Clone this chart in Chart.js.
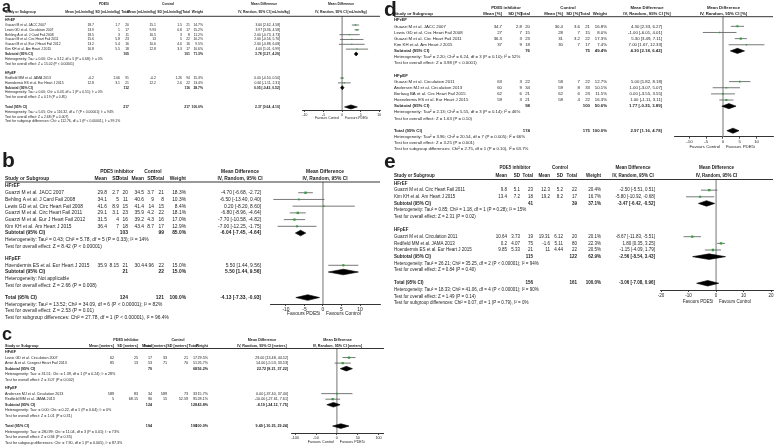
<!DOCTYPE html>
<html>
<head>
<meta charset="utf-8">
<script src="https://cdn.jsdelivr.net/npm/chart.js@4.4.0/dist/chart.umd.min.js"></script>
<style>
html, body { margin: 0; padding: 0; background: #fff; }
#wrap { position: relative; width: 778px; height: 447px; overflow: hidden; }
canvas { position: absolute; }
</style>
</head>
<body>
<div id="wrap"></div>
<script>
// ---- a: peak VO2 ----
const aStudy = ['Guazzi M et al. JACC 2007', 'Lewis GD et al. Circulation 2007', 'Behling A et al. J Card Fail 2008',
  'Guazzi M et al. Circ Heart Fail 2011', 'Guazzi M et al. Eur J Heart Fail 2012', 'Kim KH et al. Am Heart J 2015',
  'Redfield MM et al. JAMA 2013', 'Hoendermis ES et al. Eur Heart J 2015'];
const aGroup = [0, 0, 0, 0, 0, 0, 1, 1];
const aPde = [[18.7, 1.7, 20], [13.9, 1, 17], [18.5, 3, 11], [15.6, 5.8, 23], [13.2, 5.4, 16], [16.8, 5.5, 18], [-0.2, 2.06, 91], [12.8, 3.1, 21]];
const aCtl = [[15.1, 1.5, 21], [9.93, 0.8, 17], [16.5, 3, 8], [13, 5, 22], [10.6, 4.6, 16], [12.8, 3.3, 17], [-0.2, 1.26, 94], [12.2, 2.6, 22]];
const aWeight = [14.7, 15.2, 11.2, 10.2, 9.5, 10.6, 15.3, 13.4];
const aMd = [3.60, 3.97, 2.00, 2.60, 2.60, 4.00, 0.00, 0.60];
const aLo = [2.62, 3.36, -0.73, -0.56, -0.88, 1.01, -0.50, -1.11];
const aHi = [4.58, 4.58, 4.73, 5.76, 6.08, 6.99, 0.50, 2.31];
const aSub = [[105, 101, 71.3, 3.78, 3.27, 4.29], [112, 116, 28.7, 0.05, -0.43, 0.52]];
const aTotal = [217, 217, 100.0, 2.37, 0.64, 4.10];
const aHet = ['Heterogeneity: Tau² = 0.00; Chi² = 3.12, df = 5 (P = 0.68); I² = 0%', 'Heterogeneity: Tau² = 0.00; Chi² = 0.43, df = 1 (P = 0.51); I² = 0%'];
const aZ = ['Test for overall effect: Z = 15.02 (P < 0.00001)', 'Test for overall effect: Z = 0.19 (P = 0.85)'];
const aNotes = ['Heterogeneity: Tau² = 5.05; Chi² = 116.32, df = 7 (P < 0.00001); I² = 94%', 'Test for overall effect: Z = 2.68 (P = 0.007)',
  'Test for subgroup differences: Chi² = 112.76, df = 1 (P < 0.00001), I² = 99.1%'];
const aTicks = [-10, -5, 0, 5, 10];

// ---- b: VE/VCO2 slope ----
const bStudy = ['Guazzi M et al. JACC 2007', 'Behling A et al. J Card Fail 2008', 'Lewis GD et al. Circ Heart Fail 2008',
  'Guazzi M et al. Circ Heart Fail 2011', 'Guazzi M et al. Eur J Heart Fail 2012', 'Kim KH et al. Am Heart J 2015',
  'Hoendermis ES et al. Eur Heart J 2015'];
const bGroup = [0, 0, 0, 0, 0, 0, 1];
const bPde = [[29.8, 2.7, 20], [34.1, 5, 11], [41.6, 8.9, 15], [29.1, 3.1, 23], [31.5, 4, 16], [36.4, 7, 18], [35.9, 8.15, 21]];
const bCtl = [[34.5, 3.7, 21], [40.6, 9, 8], [41.4, 14, 15], [35.9, 4.2, 22], [39.2, 4.3, 16], [43.4, 8.7, 17], [30.4, 4.96, 22]];
const bWeight = [18.3, 10.3, 8.4, 18.1, 17.0, 12.9, 15.0];
const bMd = [-4.70, -6.50, 0.20, -6.80, -7.70, -7.00, 5.50];
const bLo = [-6.68, -13.40, -8.20, -8.96, -10.58, -12.25, 1.44];
const bHi = [-2.72, 0.40, 8.60, -4.64, -4.82, -1.75, 9.56];
const bSub = [[103, 99, 85.0, -6.04, -7.45, -4.64], [21, 22, 15.0, 5.50, 1.44, 9.56]];
const bTotal = [124, 121, 100.0, -4.13, -7.33, -0.93];
const bHet = ['Heterogeneity: Tau² = 0.43; Chi² = 5.78, df = 5 (P = 0.33); I² = 14%', 'Heterogeneity: Not applicable'];
const bZ = ['Test for overall effect: Z = 8.42 (P < 0.00001)', 'Test for overall effect: Z = 2.66 (P = 0.008)'];
const bNotes = ['Heterogeneity: Tau² = 13.52; Chi² = 34.09, df = 6 (P < 0.00001); I² = 82%', 'Test for overall effect: Z = 2.53 (P = 0.01)',
  'Test for subgroup differences: Chi² = 27.78, df = 1 (P < 0.00001), I² = 96.4%'];
const bTicks = [-10, -5, 0, 5, 10];

// ---- c: 6-minute walk distance ----
const cStudy = ['Lewis GD et al. Circulation 2007', 'Amin A et al. Congest Heart Fail 2013', 'Andersen MJ et al. Circulation 2013', 'Redfield MM et al. JAMA 2013'];
const cGroup = [0, 0, 1, 1];
const cPde = [[62, 25, 17], [85, 13, 53], [589, 83, 34], [5, 68.15, 90]];
const cCtl = [[33, 21, 17], [71, 70, 51], [589, 73, 33], [15, 52.59, 95]];
const cWeight = [29.5, 26.7, 15.7, 28.1];
const cMd = [29.00, 14.00, 0.00, -10.00];
const cLo = [13.48, -5.53, -37.40, -27.61];
const cHi = [44.52, 33.53, 37.40, 7.61];
const cSub = [[70, 68, 56.2, 22.72, 8.21, 37.22], [124, 128, 43.8, -8.19, -24.12, 7.75]];
const cTotal = [194, 196, 100.0, 9.49, -10.25, 29.24];
const cHet = ['Heterogeneity: Tau² = 31.51; Chi² = 1.39, df = 1 (P = 0.24); I² = 28%', 'Heterogeneity: Tau² = 0.00; Chi² = 0.22, df = 1 (P = 0.64); I² = 0%'];
const cZ = ['Test for overall effect: Z = 3.07 (P = 0.002)', 'Test for overall effect: Z = 1.01 (P = 0.31)'];
const cNotes = ['Heterogeneity: Tau² = 280.99; Chi² = 11.04, df = 3 (P = 0.01); I² = 73%', 'Test for overall effect: Z = 0.94 (P = 0.35)',
  'Test for subgroup differences: Chi² = 7.90, df = 1 (P = 0.005), I² = 87.3%'];
const cTicks = [-100, -50, 0, 50, 100];

// ---- d: LVEF ----
const dStudy = ['Guazzi M et al. JACC 2007', 'Lewis GD et al. Circ Heart Fail 2008', 'Guazzi M et al. Circ Heart Fail 2011', 'Kim KH et al. Am Heart J 2015',
  'Guazzi M et al. Circulation 2011', 'Andersen MJ et al. Circulation 2013', 'Borlaug BA et al. Circ Heart Fail 2015', 'Hoendermis ES et al. Eur Heart J 2015'];
const dGroup = [0, 0, 0, 0, 1, 1, 1, 1];
const dPde = [[34.7, 2.8, 20], [27, 7, 15], [36.3, 3, 23], [37, 9, 18], [63, 3, 22], [60, 9, 34], [62, 6, 21], [59, 3, 21]];
const dCtl = [[30.4, 3.6, 21], [28, 7, 15], [31, 3.2, 22], [30, 7, 17], [58, 7, 22], [59, 8, 33], [62, 6, 23], [58, 4, 22]];
const dWeight = [16.8, 8.0, 17.3, 7.4, 12.7, 10.1, 11.5, 16.3];
const dMd = [4.30, -1.00, 5.30, 7.00, 5.00, 1.00, 0.00, 1.00];
const dLo = [2.33, -6.01, 3.49, 1.67, 1.82, -3.07, -3.55, -1.11];
const dHi = [6.27, 4.01, 7.11, 12.33, 8.18, 5.07, 3.55, 3.11];
const dSub = [[76, 75, 49.4, 4.30, 2.18, 6.42], [98, 100, 50.6, 1.77, -0.35, 3.89]];
const dTotal = [174, 175, 100.0, 2.97, 1.16, 4.78];
const dHet = ['Heterogeneity: Tau² = 2.20; Chi² = 6.24, df = 3 (P = 0.10); I² = 52%', 'Heterogeneity: Tau² = 2.13; Chi² = 5.55, df = 3 (P = 0.14); I² = 46%'];
const dZ = ['Test for overall effect: Z = 3.98 (P < 0.0001)', 'Test for overall effect: Z = 1.63 (P = 0.10)'];
const dNotes = ['Heterogeneity: Tau² = 3.96; Chi² = 20.54, df = 7 (P = 0.005); I² = 66%', 'Test for overall effect: Z = 3.25 (P = 0.001)',
  'Test for subgroup differences: Chi² = 2.75, df = 1 (P = 0.10), I² = 63.7%'];
const dTicks = [-10, -5, 0, 5, 10];

// ---- e: E/e' ----
const eStudy = ['Guazzi M et al. Circ Heart Fail 2011', 'Kim KH et al. Am Heart J 2015', 'Guazzi M et al. Circulation 2011',
  'Redfield MM et al. JAMA 2013', 'Hoendermis ES et al. Eur Heart J 2015'];
const eGroup = [0, 0, 1, 1, 1];
const ePde = [[9.8, 5.1, 23], [13.4, 7.2, 18], [10.64, 3.73, 19], [0.2, 4.07, 75], [9.85, 5.33, 21]];
const eCtl = [[12.3, 5.2, 22], [19.2, 8.2, 17], [19.31, 6.12, 20], [-1.6, 5.11, 80], [11, 4.44, 22]];
const eWeight = [20.4, 16.7, 20.1, 22.3, 20.5];
const eMd = [-2.50, -5.80, -8.67, 1.80, -1.15];
const eLo = [-5.51, -10.92, -11.83, 0.35, -4.09];
const eHi = [0.51, -0.68, -5.51, 3.25, 1.79];
const eSub = [[41, 39, 37.1, -3.47, -6.42, -0.52], [115, 122, 62.9, -2.56, -8.54, 3.43]];
const eTotal = [156, 161, 100.0, -3.06, -7.08, 0.96];
const eHet = ['Heterogeneity: Tau² = 0.85; Chi² = 1.18, df = 1 (P = 0.28); I² = 15%', 'Heterogeneity: Tau² = 26.21; Chi² = 35.25, df = 2 (P < 0.00001); I² = 94%'];
const eZ = ['Test for overall effect: Z = 2.31 (P = 0.02)', 'Test for overall effect: Z = 0.84 (P = 0.40)'];
const eNotes = ['Heterogeneity: Tau² = 18.33; Chi² = 41.06, df = 4 (P < 0.00001); I² = 90%', 'Test for overall effect: Z = 1.49 (P = 0.14)',
  'Test for subgroup differences: Chi² = 0.07, df = 1 (P = 0.79), I² = 0%'];
const eTicks = [-20, -10, 0, 10, 20];

const GROUPS = ['HFrEF', 'HFpEF'];
const FONT = "'Liberation Sans', Arial, sans-serif";
Chart.defaults.font.family = FONT;

const panels = [
  { letter: 'a', box: [0, 0, 384, 126], fs: 3.4, lsize: 16, lx: 2, ly: 12,
    d: { study: aStudy, group: aGroup, pde: aPde, ctl: aCtl, weight: aWeight, md: aMd, lo: aLo, hi: aHi, sub: aSub, total: aTotal, het: aHet, z: aZ, notes: aNotes, ticks: aTicks },
    head: 'PDE5i', cols: ['Mean [mL/min/kg]', 'SD [mL/min/kg]', 'Total', 'Mean [mL/min/kg]', 'SD [mL/min/kg]', 'Total', 'Weight'],
    mdHead: 'IV, Random, 95% CI [mL/min/kg]', fav: ['Favours Control', 'Favours PDE5i'],
    y: { grp: 4, col: 12, line: 16.3, row0: 20.2, step: 4.82, axis: 110, fav: 118.5 }, gaps: [2, 2],
    x: { name: 5, cols: [94, 120, 129, 156, 182, 190, 203], md: 280, grpC: [104, 168], mdC: 264 },
    plot: { left: 302, right: 380, min: -10.8, max: 10.2 } },
  { letter: 'b', box: [0, 148, 384, 177], fs: 4.9, lsize: 21, lx: 2, ly: 167,
    d: { study: bStudy, group: bGroup, pde: bPde, ctl: bCtl, weight: bWeight, md: bMd, lo: bLo, hi: bHi, sub: bSub, total: bTotal, het: bHet, z: bZ, notes: bNotes, ticks: bTicks },
    head: 'PDE5 inhibitor', cols: ['Mean', 'SD', 'Total', 'Mean', 'SD', 'Total', 'Weight'],
    mdHead: 'IV, Random, 95% CI', fav: ['Favours PDE5i', 'Favours Control'],
    y: { grp: 171.5, col: 178.5, line: 182, row0: 186, step: 6.72, axis: 304, fav: 314 }, gaps: [1.8, 1.8],
    x: { name: 5, cols: [107, 119, 128, 144, 154, 164, 186], md: 261, grpC: [117, 153], mdC: 240 },
    plot: { left: 270, right: 380, min: -14.3, max: 15.4 } },
  { letter: 'c', box: [0, 322, 384, 125], fs: 3.7, lsize: 18, lx: 2, ly: 340,
    d: { study: cStudy, group: cGroup, pde: cPde, ctl: cCtl, weight: cWeight, md: cMd, lo: cLo, hi: cHi, sub: cSub, total: cTotal, het: cHet, z: cZ, notes: cNotes, ticks: cTicks },
    head: 'PDE5 inhibitor', cols: ['Mean [meters]', 'SD [meters]', 'Total', 'Mean [meters]', 'SD [meters]', 'Total', 'Weight'],
    mdHead: 'IV, Random, 95% CI [meters]', fav: ['Favours Control', 'Favours PDE5i'],
    y: { grp: 340, col: 345.5, line: 348.5, row0: 352, step: 5.55, axis: 433, fav: 442 }, gaps: [1.5, 1.85],
    x: { name: 5, cols: [114, 138, 152, 167, 188, 197, 208], md: 288, grpC: [126, 178], mdC: 262 },
    plot: { left: 291, right: 384, min: -110, max: 113 } },
  { letter: 'd', box: [382, 0, 396, 155], fs: 4.3, lsize: 21, lx: 384, ly: 16,
    d: { study: dStudy, group: dGroup, pde: dPde, ctl: dCtl, weight: dWeight, md: dMd, lo: dLo, hi: dHi, sub: dSub, total: dTotal, het: dHet, z: dZ, notes: dNotes, ticks: dTicks },
    head: 'PDE5 inhibitor', cols: ['Mean [%]', 'SD [%]', 'Total', 'Mean [%]', 'SD [%]', 'Total', 'Weight'],
    mdHead: 'IV, Random, 95% CI [%]', fav: ['Favours Control', 'Favours PDE5i'],
    y: { grp: 7.5, col: 13.5, line: 16.7, row0: 20.2, step: 6.14, axis: 136.7, fav: 146.7 }, gaps: [2, 2],
    x: { name: 394, cols: [502, 522, 530, 563, 580, 590, 607], md: 662, grpC: [506, 568], mdC: 647 },
    plot: { left: 674, right: 773, min: -14.6, max: 14.9 } },
  { letter: 'e', box: [382, 152, 396, 160], fs: 4.5, lsize: 21, lx: 384, ly: 168,
    d: { study: eStudy, group: eGroup, pde: ePde, ctl: eCtl, weight: eWeight, md: eMd, lo: eLo, hi: eHi, sub: eSub, total: eTotal, het: eHet, z: eZ, notes: eNotes, ticks: eTicks },
    head: 'PDE5 inhibitor', cols: ['Mean', 'SD', 'Total', 'Mean', 'SD', 'Total', 'Weight'],
    mdHead: 'IV, Random, 95% CI', fav: ['Favours PDE5i', 'Favours Control'],
    y: { grp: 168, col: 175.5, line: 179.5, row0: 183.5, step: 6.65, axis: 290, fav: 301.5 }, gaps: [2, 2],
    x: { name: 394, cols: [507, 520, 533, 550, 563, 577, 601], md: 655, grpC: [515, 560], mdC: 633 },
    plot: { left: 660, right: 773, min: -20.4, max: 20.7 } }
];

// row index of every line of the table
function rowIndex(group, gaps) {
  const R = { head: [], study: [], sub: [], het: [], z: [] };
  let r = 0;
  [0, 1].forEach(g => {
    R.head.push(r);
    group.forEach((gi, i) => { if (gi === g) R.study[i] = ++r; });
    R.sub.push(r + 1); R.het.push(r + 2); R.z.push(r + 3);
    r += 3 + gaps[g];
  });
  R.total = r;
  return R;
}

const ci = (m, l, h) => m.toFixed(2) + ' [' + l.toFixed(2) + ', ' + h.toFixed(2) + ']';

function tablePlugin(P, R) {
  return {
    id: 'table' + P.letter,
    afterDraw(chart) {
      const ctx = chart.ctx, ys = chart.scales.y, area = chart.chartArea;
      const L = P.box[0], T = P.box[1], D = P.d;
      const X = v => v - L;
      const fy = r => ys.getPixelForValue(r);
      const txt = (s, x, y, align, bold, size) => {
        ctx.font = (bold ? 'bold ' : '') + (size || P.fs) + 'px ' + FONT;
        ctx.textAlign = align;
        ctx.fillText(s, x, y);
      };
      ctx.save();
      ctx.fillStyle = '#1c1c1c';
      ctx.textBaseline = 'alphabetic';
      txt(P.letter, X(P.lx), P.ly - T, 'left', true, P.lsize);
      ctx.textBaseline = 'middle';
      const gy = P.y.grp - T, cy = P.y.col - T, pc = (area.left + area.right) / 2;
      txt(P.head, X(P.x.grpC[0]), gy, 'center', true);
      txt('Control', X(P.x.grpC[1]), gy, 'center', true);
      txt('Mean Difference', X(P.x.mdC), gy, 'center', true);
      txt('Mean Difference', pc, gy, 'center', true);
      txt('Study or Subgroup', X(P.x.name), cy, 'left', true);
      P.cols.forEach((h, i) => txt(h, X(P.x.cols[i]), cy, 'right', true));
      txt(P.mdHead, X(P.x.mdC), cy, 'center', true);
      txt(P.mdHead, pc, cy, 'center', true);
      ctx.strokeStyle = '#000';
      ctx.lineWidth = 0.8;
      ctx.beginPath();
      ctx.moveTo(X(P.x.name), area.top);
      ctx.lineTo(area.right, area.top);
      ctx.stroke();

      D.study.forEach((name, i) => {
        const y = fy(R.study[i]);
        txt(name, X(P.x.name), y, 'left', false);
        D.pde[i].concat(D.ctl[i]).forEach((v, k) => txt(String(v), X(P.x.cols[k]), y, 'right', false));
        txt(D.weight[i].toFixed(1) + '%', X(P.x.cols[6]), y, 'right', false);
        txt(ci(D.md[i], D.lo[i], D.hi[i]), X(P.x.md), y, 'right', false);
      });
      const summary = (label, s, r) => {
        const y = fy(r);
        txt(label, X(P.x.name), y, 'left', true);
        txt(String(s[0]), X(P.x.cols[2]), y, 'right', true);
        txt(String(s[1]), X(P.x.cols[5]), y, 'right', true);
        txt(s[2].toFixed(1) + '%', X(P.x.cols[6]), y, 'right', true);
        txt(ci(s[3], s[4], s[5]), X(P.x.md), y, 'right', true);
      };
      GROUPS.forEach((g, gi) => {
        txt(g, X(P.x.name), fy(R.head[gi]), 'left', true);
        summary('Subtotal (95% CI)', D.sub[gi], R.sub[gi]);
        txt(D.het[gi], X(P.x.name), fy(R.het[gi]), 'left', false);
        txt(D.z[gi], X(P.x.name), fy(R.z[gi]), 'left', false);
      });
      summary('Total (95% CI)', D.total, R.total);
      D.notes.forEach((n, k) => txt(n, X(P.x.name), fy(R.total + 1 + k), 'left', false));

      const zx = chart.scales.x.getPixelForValue(0), fyv = P.y.fav - T;
      txt(P.fav[0], zx - 3, fyv, 'right', false);
      txt(P.fav[1], zx + 3, fyv, 'left', false);
      ctx.restore();
    }
  };
}

function buildPanel(P) {
  const [L, T, W, H] = P.box;
  const D = P.d;
  const R = rowIndex(D.group, P.gaps);
  const yMin = (P.y.line - P.y.row0) / P.y.step;
  const yMax = (P.y.axis - P.y.row0) / P.y.step;
  const canvas = document.createElement('canvas');
  canvas.width = W; canvas.height = H;
  canvas.style.left = L + 'px'; canvas.style.top = T + 'px';
  document.getElementById('wrap').appendChild(canvas);

  const ds = [];
  ds.push({ type: 'line', data: [{ x: 0, y: yMin }, { x: 0, y: yMax }], borderColor: '#9c9c9c', borderWidth: 1.4, pointRadius: 0, order: 9 });
  D.md.forEach((m, i) => ds.push({ type: 'line', data: [{ x: D.lo[i], y: R.study[i] }, { x: D.hi[i], y: R.study[i] }],
    borderColor: '#555', borderWidth: 0.8, pointRadius: 0, order: 5 }));
  ds.push({ type: 'scatter', data: D.md.map((m, i) => ({ x: m, y: R.study[i] })), pointStyle: 'rect',
    pointRadius: D.weight.map(w => P.fs * 0.08 * Math.sqrt(w)), backgroundColor: '#2f9e3a', borderWidth: 0, order: 0 });
  const diamond = (s, r) => ({ type: 'line',
    data: [{ x: s[4], y: r }, { x: s[3], y: r - 0.42 }, { x: s[5], y: r }, { x: s[3], y: r + 0.42 }, { x: s[4], y: r }],
    fill: 'shape', backgroundColor: '#000', borderColor: '#000', borderWidth: 0.6, pointRadius: 0, tension: 0, order: 1 });
  D.sub.forEach((s, g) => ds.push(diamond(s, R.sub[g])));
  ds.push(diamond(D.total, R.total));

  new Chart(canvas, {
    type: 'scatter',
    data: { datasets: ds },
    options: {
      responsive: false, animation: false, events: [],
      layout: { autoPadding: false, padding: { left: P.plot.left - L, right: L + W - P.plot.right, top: P.y.line - T, bottom: 0 } },
      plugins: { legend: { display: false }, tooltip: { enabled: false } },
      scales: {
        x: { type: 'linear', position: 'bottom', min: P.plot.min, max: P.plot.max,
          afterBuildTicks: s => { s.ticks = D.ticks.map(v => ({ value: v })); },
          afterFit: s => { s.height = T + H - P.y.axis; },
          grid: { drawOnChartArea: false, drawTicks: true, tickLength: 2, color: '#000', lineWidth: 0.7 },
          border: { display: true, color: '#000', width: 0.8 },
          ticks: { font: { size: P.fs }, color: '#1c1c1c', padding: 1, maxRotation: 0, autoSkip: false, callback: v => String(v) } },
        y: { type: 'linear', display: false, reverse: true, min: yMin, max: yMax }
      }
    },
    plugins: [tablePlugin(P, R)]
  });
}

panels.forEach(buildPanel);
</script>
</body>
</html>
